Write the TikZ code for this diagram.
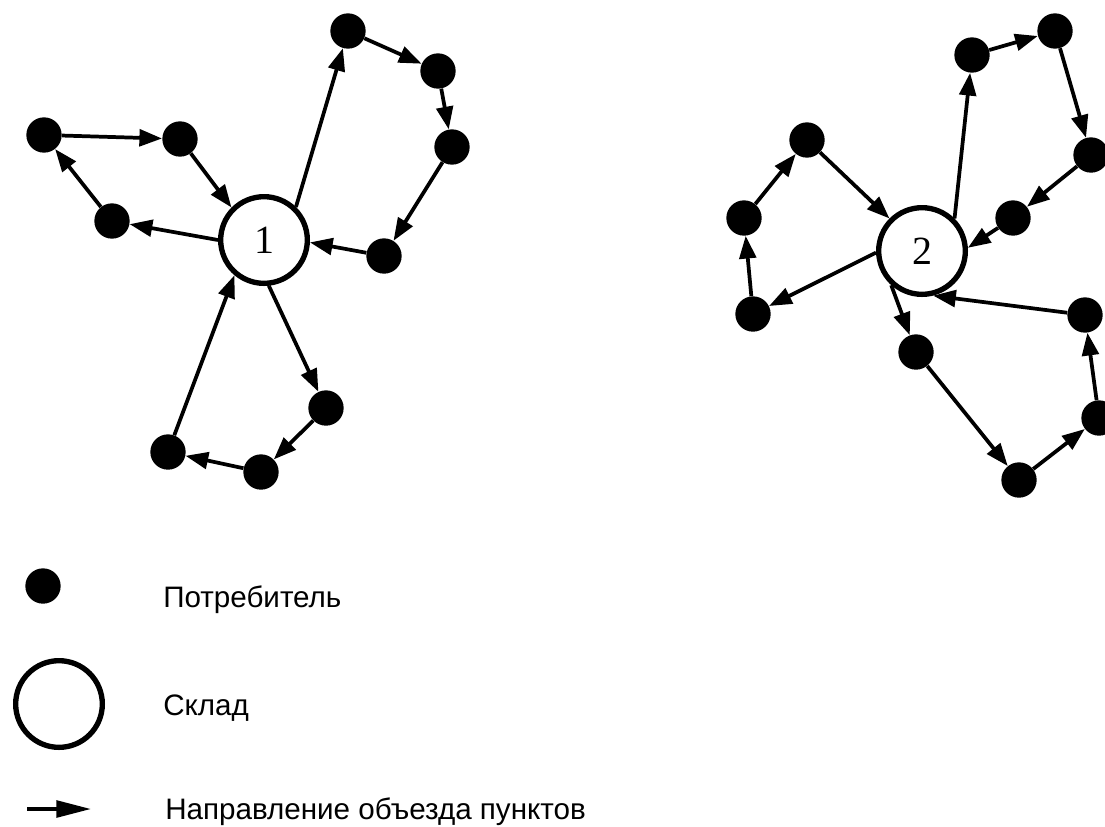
\documentclass[tikz,border=0pt]{standalone}
\usepackage{fontspec}
\setmainfont{Liberation Serif}
\newfontfamily\legendfont{Liberation Sans}
\usetikzlibrary{arrows.meta}
\begin{document}
\begin{tikzpicture}[x=0.75pt,y=-0.75pt,
  cust/.style={circle,fill=black,inner sep=0pt,minimum size=26.5pt},
  depot/.style={circle,draw=black,line width=4pt,fill=white,inner sep=0pt,minimum size=65pt,font=\fontsize{30}{30}\selectfont},
  edge/.style={line width=2.8pt,-{Triangle[length=17pt,width=12.5pt]}},
  legarrow/.style={line width=2.8pt,-{Triangle[length=26pt,width=12.5pt]}},
  legtext/.style={anchor=base west,inner sep=0pt,font=\legendfont\fontsize{22.2}{26}\selectfont}]
\useasboundingbox (0,0) rectangle (1105,826);

% depot 1 cluster
\node[depot] (D1) at (264,240) {1};
\node[cust] (a1) at (348,31) {};
\node[cust] (a2) at (438,71) {};
\node[cust] (a3) at (452,147) {};
\node[cust] (a4) at (384,256) {};
\node[cust] (b1) at (44,135) {};
\node[cust] (b2) at (180,139) {};
\node[cust] (b3) at (112,221) {};
\node[cust] (c1) at (326,408) {};
\node[cust] (c2) at (261,472) {};
\node[cust] (c3) at (168,452) {};

% depot 2 cluster
\node[depot] (D2) at (922,251) {2};
\node[cust] (d1) at (972,55) {};
\node[cust] (d2) at (1055,31) {};
\node[cust] (d3) at (1091,155) {};
\node[cust] (d4) at (1013,218) {};
\node[cust] (e1) at (807,140) {};
\node[cust] (e2) at (744,218) {};
\node[cust] (e3) at (753,314) {};
\node[cust] (f1) at (916,352) {};
\node[cust] (f2) at (1019,480) {};
\node[cust] (f3) at (1099,418) {};
\node[cust] (f4) at (1085,315) {};

% routes of depot 1
\draw[edge] (D1.46) -- (a1);
\draw[edge] (a1) -- (a2);
\draw[edge] (a2) -- (a3);
\draw[edge] (a3) -- (a4);
\draw[edge] (a4) -- (D1.-3);
\draw[edge] (D1.180) -- (b3);
\draw[edge] (b3) -- (b1);
\draw[edge] (b1) -- (b2);
\draw[edge] (b2) -- (D1.135);
\draw[edge] (D1.-84) -- (c1);
\draw[edge] (c1) -- (c2);
\draw[edge] (c2) -- (c3);
\draw[edge] (c3) -- (D1.-130);

% routes of depot 2
\draw[edge] (D2.45) -- (d1);
\draw[edge] (d1) -- (d2);
\draw[edge] (d2) -- (d3);
\draw[edge] (d3) -- (d4);
\draw[edge] (d4) -- (D2.4);
\draw[edge] (D2.-178) -- (e3);
\draw[edge] (e3) -- (e2);
\draw[edge] (e2) -- (e1);
\draw[edge] (e1) -- (D2.135);
\draw[edge] (D2.-132) -- (f1);
\draw[edge] (f1) -- (f2);
\draw[edge] (f2) -- (f3);
\draw[edge] (f3) -- (f4);
\draw[edge] (f4) -- (D2.-76);

% legend
\node[cust] (lc) at (43,586) {};
\node[depot] (ld) at (59,704) {};
\coordinate (la) at (27,809);
\coordinate (lb) at (91,809);
\draw[legarrow] (la) -- (lb);
\node[legtext] (t1) at (163,607) {Потребитель};
\node[legtext] (t2) at (163,715) {Склад};
\node[legtext] (t3) at (165,819) {Направление объезда пунктов};
\end{tikzpicture}
\end{document}
